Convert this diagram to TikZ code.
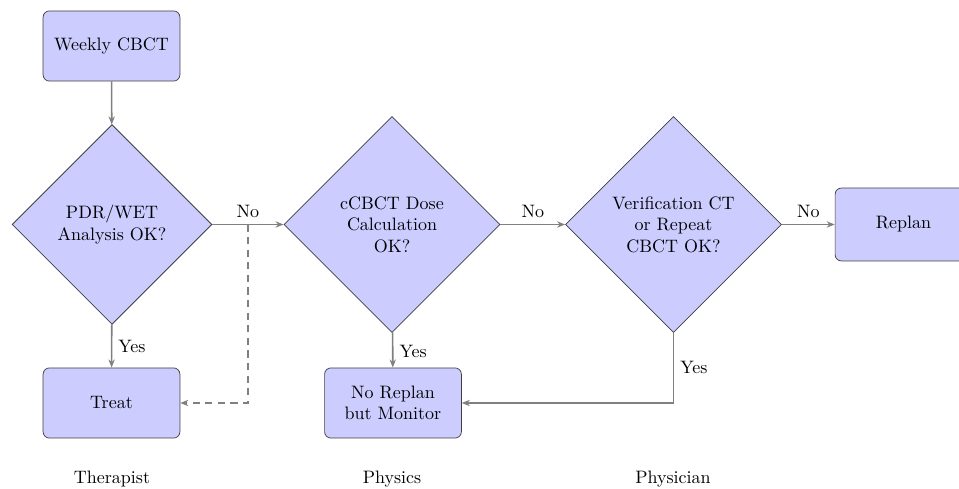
\documentclass[tikz,border=0pt]{standalone}
\usetikzlibrary{shapes.geometric,arrows.meta}
\begin{document}
\begin{tikzpicture}[x=0.5556pt,y=-0.5556pt,
  boxnode/.style={draw=black!75,fill=blue!20,rounded corners=3.5pt,minimum width=76pt,minimum height=39pt,inner sep=2pt,align=center,font=\normalsize},
  decnode/.style={diamond,aspect=1,draw=black!75,fill=blue!20,inner sep=0pt,align=center,font=\normalsize},
  conn/.style={draw=black!50,line width=0.9pt,-{Stealth[length=4.5pt,width=3.5pt]}},
  lab/.style={font=\normalsize}]
\useasboundingbox (0,0) rectangle (959,489);
\node[boxnode] (weekly) at (111.5,46) {Weekly CBCT};
\node[decnode,minimum width=111pt,minimum height=111pt] (d1) at (112,224.5) {PDR/WET\\Analysis OK?};
\node[boxnode] (treat) at (111.5,403) {Treat};
\node[decnode,minimum width=120pt,minimum height=120pt] (d2) at (392,224.5) {cCBCT Dose\\Calculation\\OK?};
\node[boxnode] (monitor) at (393,403) {No Replan\\but Monitor};
\node[decnode,minimum width=120pt,minimum height=120pt] (d3) at (673.5,224.5) {Verification CT\\or Repeat\\CBCT OK?};
\node[boxnode,minimum height=40.5pt] (replan) at (903.5,224.5) {Replan};
\node[lab] (ther) at (112,479) {Therapist};
\node[lab] (phys) at (392,479) {Physics};
\node[lab] (physn) at (673,479) {Physician};
\coordinate (split) at (248,224.5);
\coordinate (corner1) at (248,403);
\coordinate (corner2) at (673.5,403);
\draw[conn] (weekly) -- (d1);
\draw[conn] (d1) -- node[lab,right,pos=0.5] {Yes} (treat);
\draw[conn] (d1) -- node[lab,above,pos=0.5] {No} (d2);
\draw[conn,dashed,dash pattern=on 4pt off 3pt] (split) -- (corner1) -- (treat);
\draw[conn] (d2) -- node[lab,right,pos=0.55] {Yes} (monitor);
\draw[conn] (d2) -- node[lab,above,pos=0.5] {No} (d3);
\draw[conn] (d3) -- node[lab,above,pos=0.5] {No} (replan);
\draw[conn] (d3) -- node[lab,right,pos=0.5] {Yes} (corner2) -- (monitor);
\end{tikzpicture}
\end{document}
